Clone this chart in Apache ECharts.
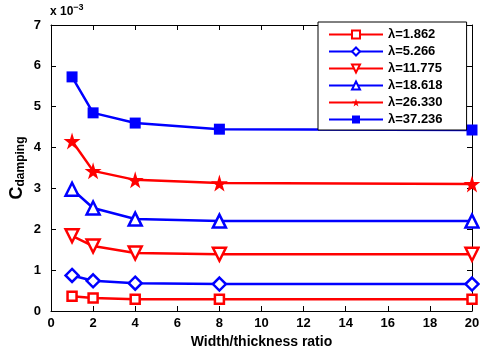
<!DOCTYPE html>
<html>
<head>
<meta charset="utf-8">
<script src="https://cdn.jsdelivr.net/npm/echarts@6/dist/echarts.min.js"></script>
<style>
  html, body { margin: 0; padding: 0; background: #fff; }
</style>
</head>
<body>
<div id="chart" style="width: 480px; height: 351px;"></div>
<script>
// width/thickness ratio
var ratios = [1, 2, 4, 8, 20];
// C_damping values, units of 1e-3
var lam1862 = [0.36, 0.32, 0.29, 0.29, 0.29];
var lam5266 = [0.87, 0.74, 0.68, 0.66, 0.66];
var lam11775 = [1.84, 1.59, 1.42, 1.39, 1.39];
var lam18618 = [2.98, 2.52, 2.25, 2.20, 2.20];
var lam26330 = [4.16, 3.43, 3.21, 3.13, 3.11];
var lam37236 = [5.73, 4.85, 4.60, 4.45, 4.43];
var seriesNames = ['λ=1.862', 'λ=5.266', 'λ=11.775', 'λ=18.618', 'λ=26.330', 'λ=37.236'];
var xTicks = [0, 2, 4, 6, 8, 10, 12, 14, 16, 18, 20];
var yTicks = [0, 1, 2, 3, 4, 5, 6, 7];

var font = 'Liberation Sans, Arial, sans-serif';

function pairs (ys) {
  return ratios.map(function (x, i) { return [x, ys[i]] })
}

function mkSeries (name, ys, color, symbol, size, hollow) {
  return {
    name: name,
    type: 'line',
    data: pairs(ys),
    symbol: symbol,
    symbolSize: size,
    showAllSymbol: true,
    lineStyle: { color: color, width: 2.5 },
    itemStyle: {
      color: hollow ? '#fff' : color,
      borderColor: color,
      borderWidth: hollow ? 2.5 : 0
    },
    emphasis: { disabled: true },
    animation: false
  }
}

var starPath = 'path://M50,0 L61,35 L98,35 L68,57 L79,91 L50,70 L21,91 L32,57 L2,35 L39,35 Z';

var option = {
  backgroundColor: '#fff',
  textStyle: { fontFamily: font },
  grid: { left: 51, right: 8, top: 25, bottom: 40, outerBoundsMode: 'none', containLabel: false },
  legend: {
    left: 318,
    top: 22,
    orient: 'vertical',
    data: seriesNames,
    itemWidth: 54,
    itemHeight: 10,
    itemGap: 4,
    padding: [6, 24, 4, 10],
    backgroundColor: '#fff',
    borderColor: '#000',
    borderWidth: 1,
    borderRadius: 0,
    textStyle: { fontFamily: font, fontWeight: 'bold', fontSize: 13, color: '#000' }
  },
  xAxis: [{
    type: 'value',
    min: 0,
    max: 20,
    interval: 2,
    name: 'Width/thickness ratio',
    nameLocation: 'middle',
    nameGap: 22,
    nameTextStyle: { fontFamily: font, fontWeight: 'bold', fontSize: 14, color: '#000' },
    axisLine: { show: true, lineStyle: { color: '#000', width: 1 } },
    axisTick: { show: true, inside: true, length: 5, lineStyle: { color: '#000' } },
    axisLabel: {
      fontFamily: font, fontWeight: 'bold', fontSize: 13, color: '#000', margin: 6,
      formatter: function (v) { return xTicks.indexOf(v) >= 0 ? String(v) : '' }
    },
    splitLine: { show: false }
  }, {
    type: 'value',
    position: 'top',
    min: 0,
    max: 20,
    interval: 2,
    axisLine: { show: true, onZero: false, lineStyle: { color: '#000', width: 1 } },
    axisTick: { show: true, inside: true, length: 5, lineStyle: { color: '#000' } },
    axisLabel: { show: false },
    splitLine: { show: false }
  }],
  yAxis: [{
    type: 'value',
    min: 0,
    max: 7,
    interval: 1,
    name: '{c|C}{sub|damping}',
    nameLocation: 'middle',
    nameGap: 24,
    nameMoveOverlap: false,
    nameRotate: 90,
    nameTextStyle: {
      rich: {
        c: { fontFamily: font, fontWeight: 'bold', fontSize: 18, color: '#000' },
        sub: { fontFamily: font, fontWeight: 'bold', fontSize: 12, color: '#000', verticalAlign: 'bottom', padding: [8, 0, 0, 0] }
      }
    },
    axisLine: { show: true, lineStyle: { color: '#000', width: 1 } },
    axisTick: { show: true, inside: true, length: 5, lineStyle: { color: '#000' } },
    axisLabel: {
      fontFamily: font, fontWeight: 'bold', fontSize: 13, color: '#000', margin: 10,
      formatter: function (v) { return yTicks.indexOf(v) >= 0 ? String(v) : '' }
    },
    splitLine: { show: false }
  }, {
    type: 'value',
    position: 'right',
    min: 0,
    max: 7,
    interval: 1,
    axisLine: { show: true, onZero: false, lineStyle: { color: '#000', width: 1 } },
    axisTick: { show: true, inside: true, length: 5, lineStyle: { color: '#000' } },
    axisLabel: { show: false },
    splitLine: { show: false }
  }],
  graphic: [{
    type: 'text',
    left: 50,
    top: 3,
    style: {
      text: '{a|x 10}{s|−3}',
      rich: {
        a: { fontFamily: font, fontWeight: 'bold', fontSize: 12, fill: '#000' },
        s: { fontFamily: font, fontWeight: 'bold', fontSize: 9, fill: '#000', verticalAlign: 'top', padding: [0, 0, 8, 0] }
      }
    }
  }],
  series: [
    mkSeries(seriesNames[0], lam1862, '#ff0000', 'rect', 9, true),
    mkSeries(seriesNames[1], lam5266, '#0000ff', 'diamond', 13, true),
    mkSeries(seriesNames[2], lam11775, '#ff0000', 'path://M0,0 L100,0 L50,90 Z', 13, true),
    mkSeries(seriesNames[3], lam18618, '#0000ff', 'triangle', 13, true),
    mkSeries(seriesNames[4], lam26330, '#ff0000', starPath, 17, false),
    mkSeries(seriesNames[5], lam37236, '#0000ff', 'rect', 11, false)
  ]
};

var myChart = echarts.init(document.getElementById('chart'), null, { renderer: 'canvas' });
myChart.setOption(option);
window.onresize = myChart.resize;
</script>
</body>
</html>
